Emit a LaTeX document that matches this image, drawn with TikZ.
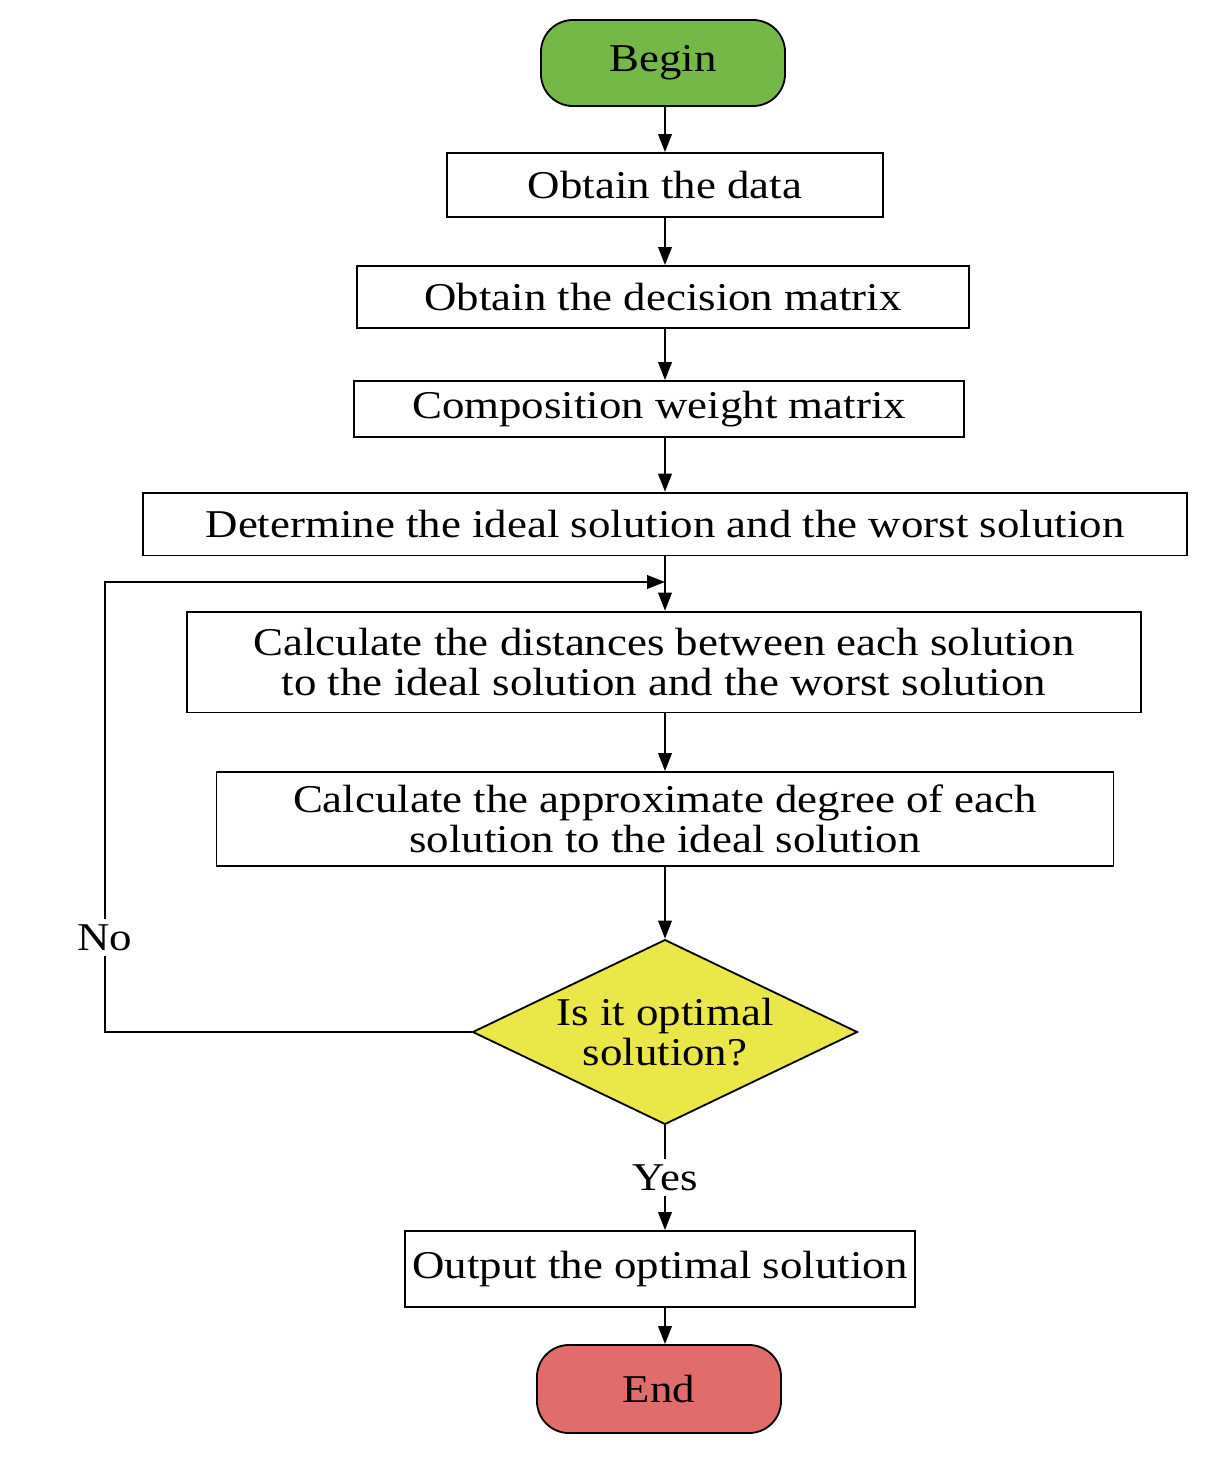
\documentclass[tikz,border=0pt]{standalone}
\usepackage{fontspec}
\setmainfont[FakeStretch=1.14]{Liberation Serif}
\usetikzlibrary{shapes.geometric,arrows.meta}

\definecolor{begingreen}{RGB}{118,184,72}
\definecolor{endred}{RGB}{224,108,108}
\definecolor{askyellow}{RGB}{234,232,72}

\tikzset{
  base/.style={draw,line width=1.3pt,font=\fontsize{28}{28}\selectfont,inner sep=0pt,align=center},
  terminal/.style={base,rounded corners=0.8cm,minimum width=6.1cm,minimum height=2.15cm},
  stepbox/.style={base,rectangle},
  ask/.style={base,diamond,aspect=2.08,fill=askyellow,minimum width=9.62cm,minimum height=4.62cm},
  flow/.style={line width=1.3pt,-{Triangle[length=0.45cm,width=0.34cm]}}
}

\begin{document}
\begin{tikzpicture}[x=0.025cm,y=-0.025cm]
  \useasboundingbox (0,0) rectangle (1210,1462);
  \node[terminal,fill=begingreen] (begin) at (663,63) {Begin};
  \node[stepbox,minimum width=10.9cm,minimum height=1.6cm] (data) at (665,185) {Obtain the data};
  \node[stepbox,minimum width=15.3cm,minimum height=1.55cm] (decmat) at (663,297) {Obtain the decision matrix};
  \node[stepbox,minimum width=15.25cm,minimum height=1.4cm] (weight) at (659,409) {Composition weight matrix};
  \node[stepbox,minimum width=26.1cm,minimum height=1.57cm] (ideal) at (665,524) {Determine the ideal solution and the worst solution};
  \node[stepbox,minimum width=23.85cm,minimum height=2.52cm] (dist) at (664,662) {Calculate the distances between each solution\\ to the ideal solution and the worst solution};
  \node[stepbox,minimum width=22.42cm,minimum height=2.35cm] (degree) at (665,819) {Calculate the approximate degree of each\\ solution to the ideal solution};
  \node[ask] (optimal) at (665,1032) {Is it optimal\\ solution?};
  \node[stepbox,minimum width=12.75cm,minimum height=1.9cm] (output) at (660,1269) {Output the optimal solution};
  \node[terminal,fill=endred,minimum height=2.2cm] (end) at (659,1389) {End};

  \coordinate (join) at (665,582);

  \draw[flow] (begin.south -| data.north) -- (data.north);
  \draw[flow] (data.south) -- (decmat.north -| data.south);
  \draw[flow] (decmat.south -| data.south) -- (weight.north -| data.south);
  \draw[flow] (weight.south -| data.south) -- (ideal.north);
  \draw[flow] (ideal.south) -- (dist.north -| ideal.south);
  \draw[flow] (dist.south -| ideal.south) -- (degree.north);
  \draw[flow] (degree.south) -- (optimal.north);
  \draw[flow] (optimal.south) -- node[fill=white,font=\fontsize{28}{28}\selectfont,inner sep=4pt]{Yes} (output.north -| optimal.south);
  \draw[flow] (output.south -| optimal.south) -- (end.north -| optimal.south);
  \draw[flow] (optimal.west) -- (105,1032) -- node[pos=0.21,fill=white,font=\fontsize{28}{28}\selectfont,inner sep=4pt]{No} (105,582) -- (join);
\end{tikzpicture}
\end{document}
